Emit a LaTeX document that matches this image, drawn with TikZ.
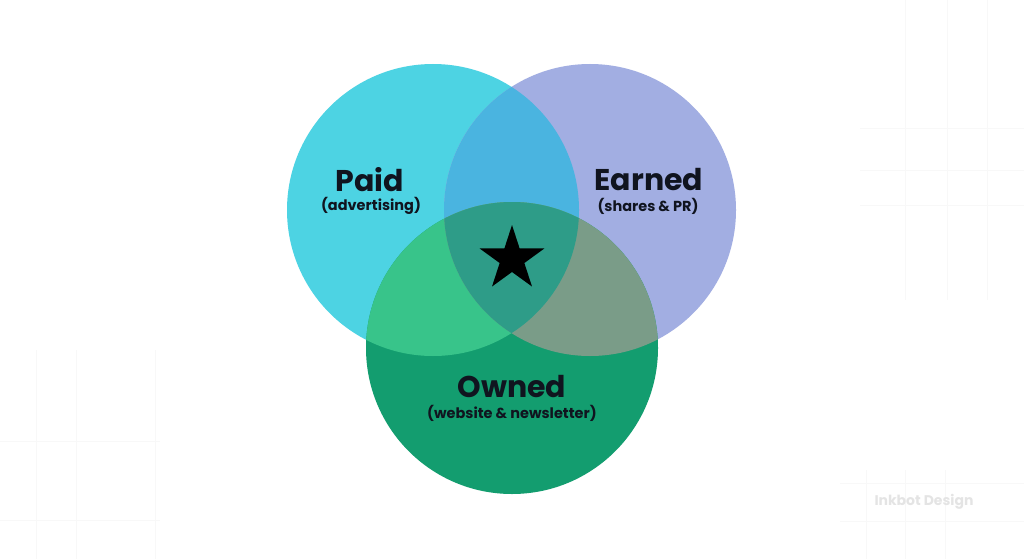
\documentclass[tikz,border=0pt]{standalone}
\usepackage{fontspec}
\setmainfont{Poppins}
\usetikzlibrary{shapes.geometric}
\definecolor{paidc}{HTML}{4DD3E3}
\definecolor{earnc}{HTML}{A2AEE2}
\definecolor{ownc}{HTML}{139D6F}
\definecolor{pec}{HTML}{4AB4E0}
\definecolor{poc}{HTML}{38C48A}
\definecolor{eoc}{HTML}{7A9C88}
\definecolor{allc}{HTML}{2E9C88}
\definecolor{inkc}{HTML}{10141F}
\definecolor{gridc}{HTML}{F8F8F8}
\definecolor{markc}{HTML}{E4E4E4}
\tikzset{
  title/.style={font=\bfseries\fontsize{30}{32}\selectfont, text=inkc, inner sep=0pt},
  sub/.style={font=\bfseries\fontsize{14.5}{16}\selectfont, text=inkc, inner sep=0pt},
  gridline/.style={draw=gridc, line width=1pt},
}
\begin{document}
\begin{tikzpicture}[x=1pt,y=-1pt]
\useasboundingbox[fill=white] (0,0) rectangle (1024,559);
% faint background grid
\foreach \x in {905,947,987} \draw[gridline] (\x,0) -- (\x,300);
\foreach \y in {128,170,205} \draw[gridline] (860,\y) -- (1024,\y);
\foreach \x in {36,76,155} \draw[gridline] (\x,350) -- (\x,559);
\foreach \y in {441,520} \draw[gridline] (0,\y) -- (160,\y);
\foreach \x in {866,905,945} \draw[gridline] (\x,470) -- (\x,559);
\foreach \y in {483,521} \draw[gridline] (840,\y) -- (1024,\y);
% circle centres
\coordinate (P) at (433,210);
\coordinate (E) at (590,210);
\coordinate (O) at (512,348);
% base circles
\fill[paidc] (P) circle (146);
\fill[earnc] (E) circle (146);
\fill[ownc] (O) circle (146);
% pairwise overlaps
\begin{scope}
  \clip (P) circle (146);
  \fill[pec] (E) circle (146);
  \fill[poc] (O) circle (146);
\end{scope}
\begin{scope}
  \clip (E) circle (146);
  \fill[eoc] (O) circle (146);
\end{scope}
\begin{scope}
  \clip (P) circle (146);
  \clip (E) circle (146);
  \fill[allc] (O) circle (146);
\end{scope}
% star
\node[star, star points=5, star point ratio=2.618, fill=black, minimum size=68pt, inner sep=0pt] (star) at (512,259) {};
% labels
\node[title] (paid) at (370,180) {Paid};
\node[sub] (paidsub) at (371,206) {(advertising)};
\node[title] (earned) at (649,180) {Earned};
\node[sub] (earnedsub) at (648,206) {(shares \& PR)};
\node[title] (owned) at (512,387) {Owned};
\node[sub] (ownedsub) at (512,413) {(website \& newsletter)};
\node[font=\bfseries\fontsize{14}{16}\selectfont, text=markc, inner sep=0pt] (mark) at (924,502) {Inkbot Design};
\end{tikzpicture}
\end{document}
